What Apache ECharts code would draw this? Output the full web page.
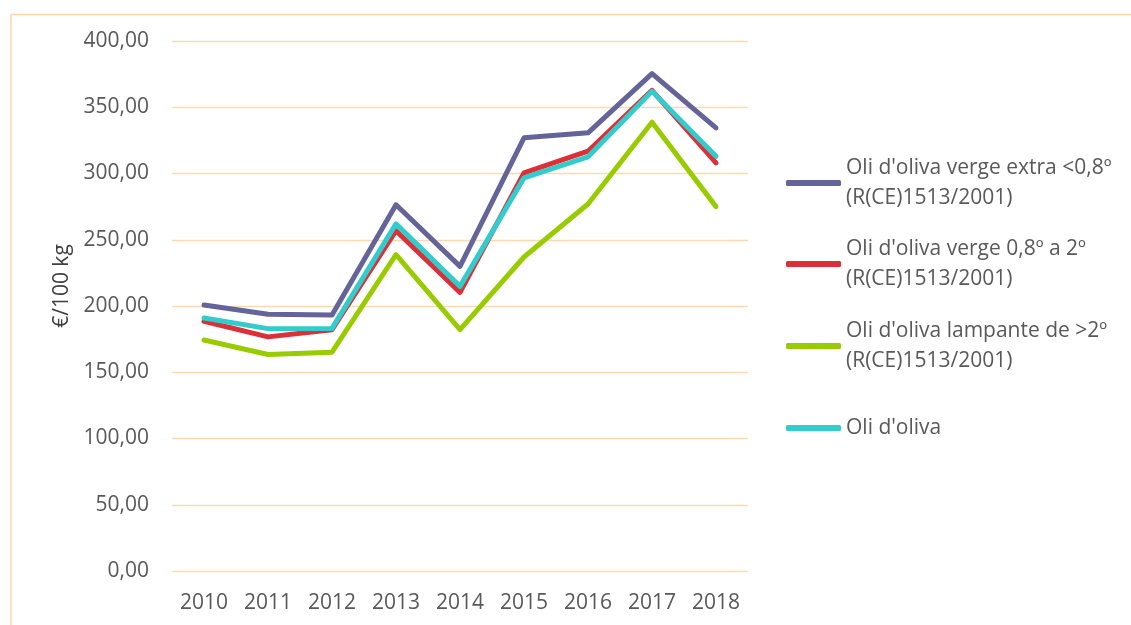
<!DOCTYPE html>
<html>
<head>
<meta charset="utf-8">
<script src="https://cdn.jsdelivr.net/npm/echarts@6/dist/echarts.min.js"></script>
<style>
html,body{margin:0;padding:0;background:#fff;}
#c{width:1131px;height:625px;}
</style>
</head>
<body>
<div id="c"></div>
<script>
const years = ['2010','2011','2012','2013','2014','2015','2016','2017','2018'];
const seriesNames = [
  "Oli d'oliva verge extra <0,8º (R(CE)1513/2001)",
  "Oli d'oliva verge 0,8º a 2º (R(CE)1513/2001)",
  "Oli d'oliva lampante de >2º (R(CE)1513/2001)",
  "Oli d'oliva"
];
const legendLabels = [
  "Oli d'oliva verge extra <0,8º\n(R(CE)1513/2001)",
  "Oli d'oliva verge 0,8º a 2º\n(R(CE)1513/2001)",
  "Oli d'oliva lampante de >2º\n(R(CE)1513/2001)",
  "Oli d'oliva"
];
const extra    = [200.7, 193.7, 193.2, 276.4, 229.9, 326.9, 330.7, 375.4, 334.5];
const verge    = [188.5, 176.7, 182.1, 256.8, 210.3, 300.5, 316.8, 362.8, 308.0];
const lampante = [174.3, 163.4, 165.1, 238.7, 182.2, 237.0, 277.0, 338.7, 275.0];
const oliva    = [191.0, 182.9, 183.1, 262.0, 214.8, 296.7, 312.6, 362.0, 313.0];
const colors = ['#646499', '#dc2f37', '#99cc00', '#33cccc'];
const yTicks = {min: 0, max: 400, interval: 50};

const chart = echarts.init(document.getElementById('c'), null, {renderer: 'canvas'});
const font = "'Open Sans', 'Noto Sans', sans-serif";
const values = [extra, verge, lampante, oliva];
const legendTops = [133, 214, 296, 408];
const legends = seriesNames.map((n, i) => ({
  orient: 'vertical',
  left: 781,
  top: legendTops[i],
  data: [n],
  itemWidth: 55,
  itemHeight: 6,
  itemGap: 0,
  icon: 'roundRect',
  formatter: () => legendLabels[i],
  textStyle: {
    fontFamily: font, fontSize: 21, color: '#595959', lineHeight: 30,
    padding: i < 3 ? [30, 0, 0, 0] : 0
  }
}));
chart.setOption({
  animation: false,
  backgroundColor: '#fff',
  color: colors,
  graphic: [{
    type: 'rect', left: 8.5, top: 12,
    shape: {x: 0, y: 0, width: 1200, height: 700},
    style: {fill: null, stroke: '#fdd6a8', lineWidth: 1.5},
    silent: true
  }],
  legend: legends,
  grid: {left: 172, right: 383, top: 41, bottom: 54},
  xAxis: {
    type: 'category',
    data: years,
    boundaryGap: true,
    axisLine: {show: false},
    axisTick: {show: false},
    axisLabel: {fontFamily: font, fontSize: 21, color: '#595959', margin: 22}
  },
  yAxis: {
    type: 'value',
    min: yTicks.min, max: yTicks.max, interval: yTicks.interval,
    name: '€/100 kg',
    nameLocation: 'middle',
    nameGap: 98,
    nameTextStyle: {fontFamily: font, fontSize: 21, color: '#404040', padding: [0, 0, 0, 40]},
    axisLine: {show: false},
    axisTick: {show: false},
    splitLine: {lineStyle: {color: '#fdd9b3', width: 1.3}},
    axisLabel: {
      fontFamily: font, fontSize: 21, color: '#595959', margin: 23,
      formatter: v => v.toFixed(2).replace('.', ',')
    }
  },
  series: seriesNames.map((n, i) => ({
    name: n,
    type: 'line',
    data: values[i],
    symbol: 'none',
    lineStyle: {width: 5, color: colors[i], cap: 'round', join: 'round'},
    itemStyle: {color: colors[i]},
    z: i === 3 ? 3 : 2
  }))
});
</script>
</body>
</html>
